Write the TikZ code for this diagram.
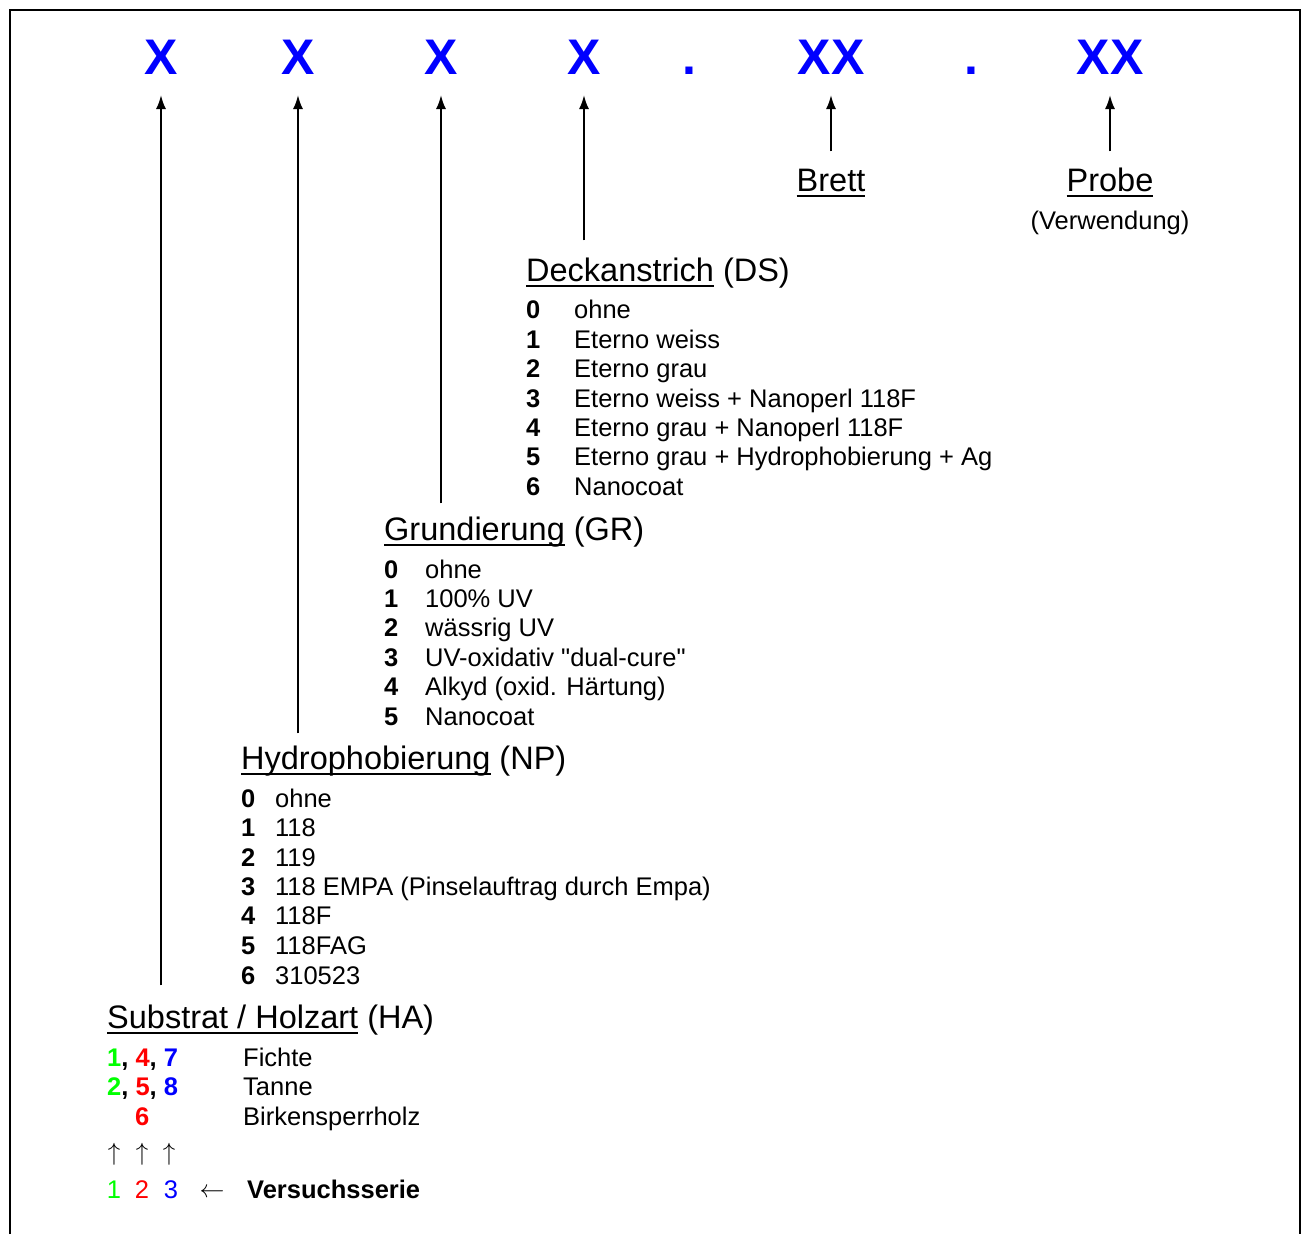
\documentclass[tikz,border=0pt]{standalone}
\usepackage{fontspec}
\setmainfont{Liberation Sans}
\usepackage{xcolor}
\usepackage{tikz}
\usetikzlibrary{arrows.meta}
\definecolor{gruen}{RGB}{0,255,0}
\definecolor{rot}{RGB}{255,0,0}
\definecolor{blau}{RGB}{0,0,255}
\newcommand{\unterstr}[1]{\setbox0\hbox{#1}\rlap{\rule[-6pt]{\wd0}{2.5pt}}\box0\relax}
\tikzset{
  kopf/.style={anchor=base west, inner sep=0pt, font=\fontsize{32.5}{38}\selectfont},
  eintrag/.style={anchor=base west, inner sep=0pt, font=\fontsize{25.5}{30}\selectfont},
  ziffer/.style={anchor=base west, inner sep=0pt, font=\fontsize{25.5}{30}\selectfont\bfseries},
  code/.style={anchor=base, inner sep=0pt, outer ysep=21pt, text=blau, font=\fontsize{50}{60}\selectfont\bfseries},
  pfeil/.style={-{Latex[length=14pt,width=10pt]}, line width=2pt},
}

\begin{document}
\begin{tikzpicture}[x=1pt, y=-1pt]
\useasboundingbox (0,0) rectangle (1306,1234);
% рамка
\draw [line width=2pt] (9.5,1234) -- (9.5,10) -- (1299.5,10) -- (1299.5,1234);
% код
\node [code] (x1) at (161,74) {X};
\node [code] (x2) at (298,74) {X};
\node [code] (x3) at (441,74) {X};
\node [code] (x4) at (584,74) {X};
\node [code] (p1) at (689,74) {.};
\node [code] (x5) at (831,74) {XX};
\node [code] (p2) at (971,74) {.};
\node [code] (x6) at (1110,74) {XX};
% Brett, Probe
\node [kopf, anchor=base] (brett) at (831,191) {\unterstr{Brett}};
\node [kopf, anchor=base] (probe) at (1110,191) {\unterstr{Probe}};
\node [eintrag, anchor=base] (verw) at (1110,229) {(Verwendung)};
% Deckanstrich
\node [kopf] (ds) at (526,281) {\unterstr{Deckanstrich} (DS)};
\node [ziffer] (ds0n) at (526,318) {0};  \node [eintrag] (ds0) at (574,318) {ohne};
\node [ziffer] (ds1n) at (526,348) {1};  \node [eintrag] (ds1) at (574,348) {Eterno weiss};
\node [ziffer] (ds2n) at (526,377) {2};  \node [eintrag] (ds2) at (574,377) {Eterno grau};
\node [ziffer] (ds3n) at (526,407) {3};  \node [eintrag] (ds3) at (574,407) {Eterno weiss + Nanoperl 118F};
\node [ziffer] (ds4n) at (526,436) {4};  \node [eintrag] (ds4) at (574,436) {Eterno grau + Nanoperl 118F};
\node [ziffer] (ds5n) at (526,465) {5};  \node [eintrag] (ds5) at (574,465) {Eterno grau + Hydrophobierung + Ag};
\node [ziffer] (ds6n) at (526,495) {6};  \node [eintrag] (ds6) at (574,495) {Nanocoat};
% Grundierung
\node [kopf] (gr) at (384,540) {\unterstr{Grundierung} (GR)};
\node [ziffer] (gr0n) at (384,578) {0};  \node [eintrag] (gr0) at (425,578) {ohne};
\node [ziffer] (gr1n) at (384,607) {1};  \node [eintrag] (gr1) at (425,607) {100\% UV};
\node [ziffer] (gr2n) at (384,636) {2};  \node [eintrag] (gr2) at (425,636) {wässrig UV};
\node [ziffer] (gr3n) at (384,666) {3};  \node [eintrag] (gr3) at (425,666) {UV-oxidativ \textquotedbl dual-cure\textquotedbl};
\node [ziffer] (gr4n) at (384,695) {4};  \node [eintrag] (gr4) at (425,695) {Alkyd (oxid. Härtung)};
\node [ziffer] (gr5n) at (384,725) {5};  \node [eintrag] (gr5) at (425,725) {Nanocoat};
% Hydrophobierung
\node [kopf] (np) at (241,769) {\unterstr{Hydrophobierung} (NP)};
\node [ziffer] (np0n) at (241,807) {0};  \node [eintrag] (np0) at (275,807) {ohne};
\node [ziffer] (np1n) at (241,836) {1};  \node [eintrag] (np1) at (275,836) {118};
\node [ziffer] (np2n) at (241,866) {2};  \node [eintrag] (np2) at (275,866) {119};
\node [ziffer] (np3n) at (241,895) {3};  \node [eintrag] (np3) at (275,895) {118 EMPA (Pinselauftrag durch Empa)};
\node [ziffer] (np4n) at (241,924) {4};  \node [eintrag] (np4) at (275,924) {118F};
\node [ziffer] (np5n) at (241,954) {5};  \node [eintrag] (np5) at (275,954) {118FAG};
\node [ziffer] (np6n) at (241,984) {6};  \node [eintrag] (np6) at (275,984) {310523};
% Substrat / Holzart
\node [kopf] (ha) at (107,1028) {\unterstr{Substrat / Holzart} (HA)};
\node [ziffer] (ha1n) at (107,1066) {\textcolor{gruen}{1}, \textcolor{rot}{4}, \textcolor{blau}{7}};
\node [eintrag] (ha1) at (243,1066) {Fichte};
\node [ziffer] (ha2n) at (107,1095) {\textcolor{gruen}{2}, \textcolor{rot}{5}, \textcolor{blau}{8}};
\node [eintrag] (ha2) at (243,1095) {Tanne};
\node [ziffer, text=rot] (ha3n) at (135,1125) {6};
\node [eintrag] (ha3) at (243,1125) {Birkensperrholz};
% Versuchsserie
\node [eintrag, anchor=base] (auf1) at (114,1160) {$\uparrow$};
\node [eintrag, anchor=base] (auf2) at (142,1160) {$\uparrow$};
\node [eintrag, anchor=base] (auf3) at (169,1160) {$\uparrow$};
\node [eintrag, anchor=base, text=gruen] (s1) at (114,1198) {1};
\node [eintrag, anchor=base, text=rot] (s2) at (142,1198) {2};
\node [eintrag, anchor=base, text=blau] (s3) at (171,1198) {3};
\node [eintrag, anchor=base] (links) at (212,1197) {$\leftarrow$};
\node [ziffer] (vs) at (247,1198) {Versuchsserie};
% стрелки
\draw [pfeil, shorten <=19pt] (ha.north -| x1.south) -- (x1.south);
\draw [pfeil, shorten <=12pt] (np.north -| x2.south) -- (x2.south);
\draw [pfeil, shorten <=13pt] (gr.north -| x3.south) -- (x3.south);
\draw [pfeil, shorten <=17pt] (ds.north -| x4.south) -- (x4.south);
\draw [pfeil, shorten <=17pt] (brett) -- (x5.south);
\draw [pfeil, shorten <=16pt] (probe.north) -- (x6.south);
\end{tikzpicture}
\end{document}
